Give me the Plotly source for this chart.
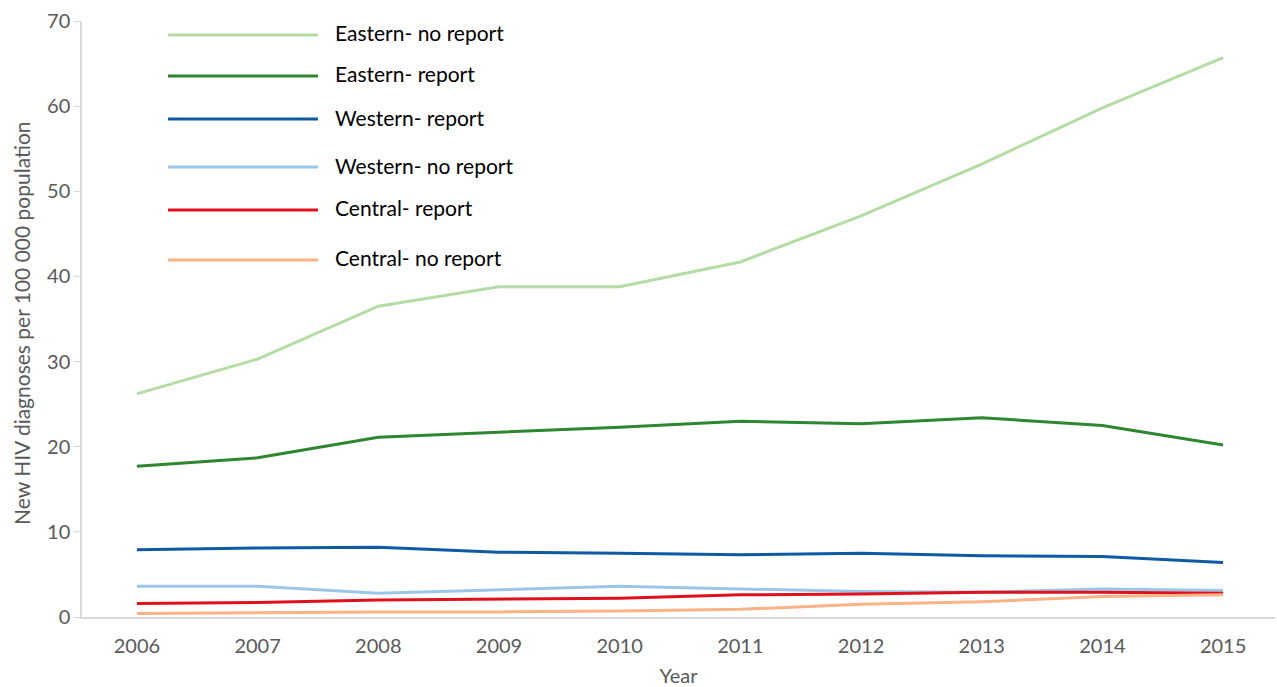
import plotly.graph_objects as go

years = [2006, 2007, 2008, 2009, 2010, 2011, 2012, 2013, 2014, 2015]
eastern_no_report = [26.2, 30.3, 36.5, 38.8, 38.8, 41.7, 47.1, 53.2, 59.8, 65.7]
eastern_report = [17.7, 18.7, 21.1, 21.7, 22.3, 23.0, 22.7, 23.4, 22.5, 20.2]
western_report = [7.9, 8.1, 8.2, 7.6, 7.5, 7.3, 7.5, 7.2, 7.1, 6.4]
western_no_report = [3.6, 3.6, 2.8, 3.2, 3.6, 3.3, 3.0, 2.9, 3.3, 3.1]
central_report = [1.6, 1.7, 2.0, 2.1, 2.2, 2.6, 2.7, 2.9, 2.9, 2.8]
central_no_report = [0.4, 0.5, 0.6, 0.6, 0.7, 0.9, 1.5, 1.8, 2.4, 2.6]

series = [
    ("Eastern- no report", eastern_no_report, "#b5dca5"),
    ("Eastern- report", eastern_report, "#2e8630"),
    ("Western- report", western_report, "#0f5aa3"),
    ("Western- no report", western_no_report, "#9cc6e8"),
    ("Central- report", central_report, "#e0111b"),
    ("Central- no report", central_no_report, "#fbb386"),
]

FONT = "Lato, 'Open Sans', sans-serif"
W, H = 1277, 687
ML, MR, MT, MB = 82, 2, 21, 70
PW, PH = W - ML - MR, H - MT - MB

fig = go.Figure()
for name, vals, col in series:
    fig.add_trace(go.Scatter(x=years, y=vals, mode="lines", name=name,
                             line=dict(color=col, width=3), showlegend=False))

# custom legend (long line samples like the reference)
leg_line_y = [35, 76, 119, 167, 210, 260]
shapes = []
annotations = []
for (name, vals, col), py in zip(series, leg_line_y):
    yp = (MT + PH - py) / PH
    shapes.append(dict(type="line", xref="paper", yref="paper",
                       x0=(168 - ML) / PW, x1=(318 - ML) / PW, y0=yp, y1=yp,
                       line=dict(color=col, width=3)))
    annotations.append(dict(xref="paper", yref="paper", x=(333 - ML) / PW, y=yp + 2 / PH,
                            text=name, showarrow=False, xanchor="left", yanchor="middle",
                            font=dict(family=FONT, size=21, color="#000000")))

# y-axis title placed like the reference
annotations.append(dict(xref="paper", yref="paper", x=(21 - ML) / PW, y=(617 - 323) / PH,
                        text="New HIV diagnoses per 100 000 population", textangle=-90,
                        showarrow=False, xanchor="center", yanchor="middle",
                        font=dict(family=FONT, size=21, color="#595959")))

fig.update_layout(
    width=W, height=H,
    margin=dict(l=ML, r=MR, t=MT, b=MB),
    paper_bgcolor="white", plot_bgcolor="white",
    font=dict(family=FONT, color="#595959"),
    shapes=shapes, annotations=annotations,
    xaxis=dict(range=[2005.545, 2015.43], tickmode="array", tickvals=years,
               ticktext=[str(y) for y in years], showgrid=False, zeroline=False,
               showline=True, linecolor="#d9d9d9", linewidth=1.5, ticks="",
               ticklabelstandoff=10,
               tickfont=dict(size=20, color="#595959"),
               title=dict(text="Year", font=dict(size=20, color="#595959"), standoff=15)),
    yaxis=dict(range=[0, 70], tickvals=[0, 10, 20, 30, 40, 50, 60, 70], showgrid=False,
               zeroline=False, showline=True, linecolor="#d9d9d9", linewidth=1.5,
               ticks="outside", ticklen=6, tickcolor="#d9d9d9",
               tickfont=dict(size=20, color="#595959")),
)

fig.write_html("out.html", config={"displayModeBar": False},
               post_script="document.body.style.margin='0';document.body.style.overflow='hidden';")
